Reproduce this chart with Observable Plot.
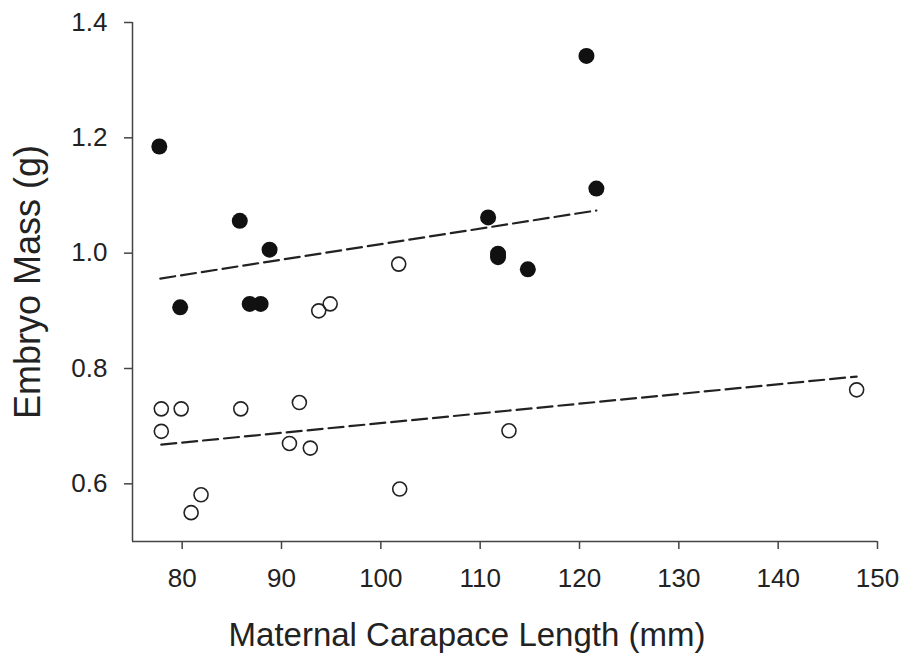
<!DOCTYPE html>
<html>
<head>
<meta charset="utf-8">
<script src="https://cdn.jsdelivr.net/npm/d3@7"></script>
<script src="https://cdn.jsdelivr.net/npm/@observablehq/plot@0.6"></script>
<style>
  html, body { margin: 0; padding: 0; background: #fff; }
  #chart svg { display: block; }
</style>
</head>
<body>
<div id="chart"></div>
<script>
// Filled circles
const filledX = [77.7, 79.8, 85.8, 86.8, 87.9, 88.8, 110.8, 111.8, 111.8, 114.8, 120.7, 121.7];
const filledY = [1.185, 0.906, 1.056, 0.912, 0.912, 1.006, 1.062, 0.993, 0.999, 0.972, 1.342, 1.112];
// Open circles
const openX = [77.9, 77.9, 79.9, 80.9, 81.9, 85.9, 90.8, 91.8, 92.9, 93.75, 94.9, 101.8, 101.9, 112.9, 147.9];
const openY = [0.730, 0.691, 0.730, 0.550, 0.581, 0.730, 0.670, 0.741, 0.662, 0.900, 0.912, 0.981, 0.591, 0.692, 0.763];
// Regression lines (end points)
const upperLineX = [77.8, 121.7];
const upperLineY = [0.956, 1.074];
const lowerLineX = [77.9, 147.9];
const lowerLineY = [0.668, 0.786];
// Ticks
const xTicks = [80, 90, 100, 110, 120, 130, 140, 150];
const yTicks = [0.6, 0.8, 1.0, 1.2, 1.4];
const xTitle = "Maternal Carapace Length (mm)";
const yTitle = "Embryo Mass (g)";

const filled = filledX.map((x, i) => ({x, y: filledY[i]}));
const open = openX.map((x, i) => ({x, y: openY[i]}));
const upper = upperLineX.map((x, i) => ({x, y: upperLineY[i]}));
const lower = lowerLineX.map((x, i) => ({x, y: lowerLineY[i]}));

const ink = "#222";

const chart = Plot.plot({
  width: 906,
  height: 660,
  marginLeft: 132,
  marginRight: 29,
  marginTop: 22,
  marginBottom: 119,
  style: {fontFamily: "'Liberation Sans', Arial, sans-serif", color: ink, background: "#fff"},
  x: {domain: [75, 150]},
  y: {domain: [0.5, 1.4]},
  marks: [
    Plot.ruleX([75], {y1: 0.5, y2: 1.4, stroke: "#444", strokeWidth: 1.5}),
    Plot.ruleY([0.5], {x1: 75, x2: 150, stroke: "#444", strokeWidth: 1.5}),
    Plot.axisY({ticks: yTicks, tickFormat: d3.format(".1f"), tickSize: 8, tickPadding: 17, fontSize: 26, label: null, stroke: "#444", strokeWidth: 1.5}),
    Plot.axisX({ticks: xTicks, tickFormat: d => String(d), tickSize: 8, tickPadding: 19, fontSize: 26, label: null, stroke: "#444", strokeWidth: 1.5}),
    Plot.line(upper, {x: "x", y: "y", stroke: ink, strokeWidth: 2.2, strokeDasharray: "15,6"}),
    Plot.line(lower, {x: "x", y: "y", stroke: ink, strokeWidth: 2.2, strokeDasharray: "15,6"}),
    Plot.dot(open, {x: "x", y: "y", r: 7, fill: "none", stroke: ink, strokeWidth: 1.6}),
    Plot.dot(filled, {x: "x", y: "y", r: 8, fill: "#111", stroke: "none"}),
    Plot.text([xTitle], {frameAnchor: "bottom", text: d => d, dx: -38, dy: 94, lineAnchor: "middle", textAnchor: "middle", fontSize: 33, fill: ink}),
    Plot.text([yTitle], {frameAnchor: "left", text: d => d, dx: -104, rotate: -90, lineAnchor: "middle", textAnchor: "middle", fontSize: 36, fill: ink})
  ]
});
document.getElementById("chart").appendChild(chart);
</script>
</body>
</html>
